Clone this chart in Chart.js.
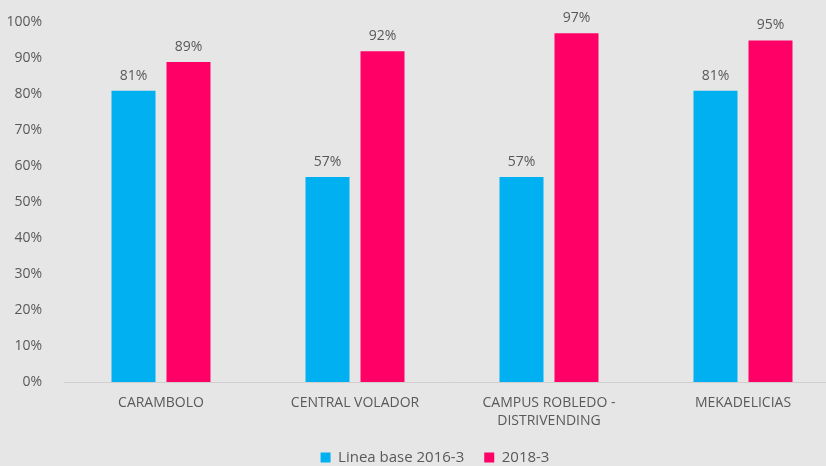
<!DOCTYPE html>
<html>
<head>
<meta charset="utf-8">
<script src="https://cdn.jsdelivr.net/npm/chart.js@4"></script>
<style>
  html, body { margin: 0; padding: 0; background: #e7e6e6; overflow: hidden; }
  #wrap { width: 842px; height: 475px; position: relative; }
</style>
</head>
<body>
<div id="wrap"><canvas id="chart"></canvas></div>
<script>
// Data
var categories = ['CARAMBOLO', 'CENTRAL VOLADOR', ['CAMPUS ROBLEDO -', 'DISTRIVENDING'], 'MEKADELICIAS'];
var baseline = [81, 57, 57, 81];
var current = [89, 92, 97, 95];
var seriesNames = ['Linea base 2016-3', '2018-3'];

var textColor = '#595959';
var fontFamily = "'Open Sans', 'Liberation Sans', sans-serif";

// draws the value above each bar
var valueLabels = {
    id: 'valueLabels',
    afterDatasetsDraw: function (chart) {
        var ctx = chart.ctx;
        ctx.save();
        ctx.fillStyle = textColor;
        ctx.font = '14px ' + fontFamily;
        ctx.textAlign = 'center';
        ctx.textBaseline = 'bottom';
        chart.data.datasets.forEach(function (ds, i) {
            chart.getDatasetMeta(i).data.forEach(function (bar, j) {
                ctx.fillText(ds.data[j] + '%', bar.x, bar.y - 8);
            });
        });
        ctx.restore();
    }
};

// the canvas is wider than the window, so nudge the legend back to the visible centre
var legendShift = {
    id: 'legendShift',
    afterLayout: function (chart) {
        chart.legend.left += 15;
        chart.legend.right += 15;
    }
};

var chart = new Chart(document.getElementById('chart'), {
    type: 'bar',
    data: {
        labels: categories,
        datasets: [{
            label: seriesNames[0],
            backgroundColor: '#00b0f0',
            data: baseline
        }, {
            label: seriesNames[1],
            backgroundColor: '#ff0066',
            data: current
        }]
    },
    options: {
        responsive: true,
        maintainAspectRatio: false,
        animation: false,
        categoryPercentage: 0.567,
        barPercentage: 0.8,
        layout: { padding: { top: 20, right: 2, left: 0, bottom: 0 } },
        plugins: {
            legend: {
                position: 'bottom',
                labels: {
                    color: textColor,
                    font: { family: fontFamily, size: 15 },
                    boxWidth: 10,
                    boxHeight: 10,
                    padding: 20
                }
            },
            tooltip: { enabled: false }
        },
        scales: {
            x: {
                grid: { display: false },
                border: { color: '#d0cece' },
                afterFit: function (scale) { scale.height = 48; },
                ticks: {
                    color: textColor,
                    font: { family: fontFamily, size: 14, lineHeight: 1.3 },
                    maxRotation: 0,
                    padding: 4
                }
            },
            y: {
                min: 0,
                max: 100,
                grid: { display: false },
                border: { display: false },
                afterFit: function (scale) { scale.width = 64; },
                ticks: {
                    stepSize: 10,
                    color: textColor,
                    font: { family: fontFamily, size: 14 },
                    padding: 14,
                    callback: function (v) { return v + '%'; }
                }
            }
        }
    },
    plugins: [valueLabels, legendShift]
});
</script>
</body>
</html>
